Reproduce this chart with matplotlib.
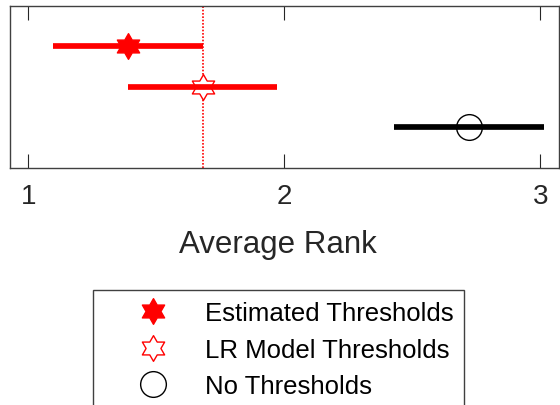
import matplotlib.pyplot as plt
from matplotlib.path import Path
from matplotlib.lines import Line2D

plt.rcParams['font.family'] = ['Liberation Sans', 'DejaVu Sans']

methods = ['Estimated Thresholds', 'LR Model Thresholds', 'No Thresholds']
mean_rank = [1.388, 1.681, 2.721]
low_rank = [1.096, 1.388, 2.428]
high_rank = [1.681, 1.972, 3.013]
row_pos = [3, 2, 1]
colors = ['red', 'red', 'black']
faces = ['red', 'white', 'white']

hexagram = Path.unit_regular_star(6, 0.577)
markers = [hexagram, hexagram, 'o']

W, H = 560, 406
fig = plt.figure(figsize=(W / 100, H / 100), dpi=100)
# axes box in pixels: left 9.6, right 559, top 6.7, bottom 168.5
ax = fig.add_axes([9.6 / W, 1 - 168.5 / H, (559 - 9.6) / W, (168.5 - 6.7) / H])

for i in range(3):
    ax.plot([low_rank[i], high_rank[i]], [row_pos[i], row_pos[i]],
            color=colors[i], lw=4.1, solid_capstyle='butt', zorder=4)
    ax.plot(mean_rank[i], row_pos[i], ls='none', marker=markers[i],
            ms=18.5, mfc=faces[i], mec=colors[i], mew=1, zorder=3)

ax.axvline(mean_rank[1], color='red', lw=1.2, dashes=(1, 1), zorder=2)

ax.set_xlim(0.927, 3.073)
ax.set_ylim(0, 4)
ax.set_xticks([1, 2, 3])
ax.set_yticks([])
ax.tick_params(axis='x', direction='in', top=True, length=10, width=0.8,
               color='#262626', labelsize=20, labelcolor='#262626', pad=11)
for s in ax.spines.values():
    s.set_color('#404040')
    s.set_linewidth(1)

ax.set_xlabel('Average Rank', fontsize=22.5, color='#262626')
ax.xaxis.set_label_coords(278 / W, 1 - 253 / H, transform=fig.transFigure)
ax.xaxis.label.set_va('baseline')

handles = [Line2D([], [], ls='none', marker=markers[i], ms=18.5,
                  mfc=('red' if i == 0 else 'none'), mec=colors[i], mew=1)
           for i in range(3)]
leg = fig.legend(handles, methods, loc='upper left',
                 bbox_to_anchor=(92.7 / W, 1 - 291 / H), fontsize=18.5,
                 frameon=True, fancybox=False, framealpha=1, edgecolor='#404040',
                 borderpad=0.42, labelspacing=0.5, handlelength=3.83,
                 handletextpad=0.12, borderaxespad=0, numpoints=1)
leg.get_frame().set_linewidth(1)

fig.savefig('out.png', dpi=100)
